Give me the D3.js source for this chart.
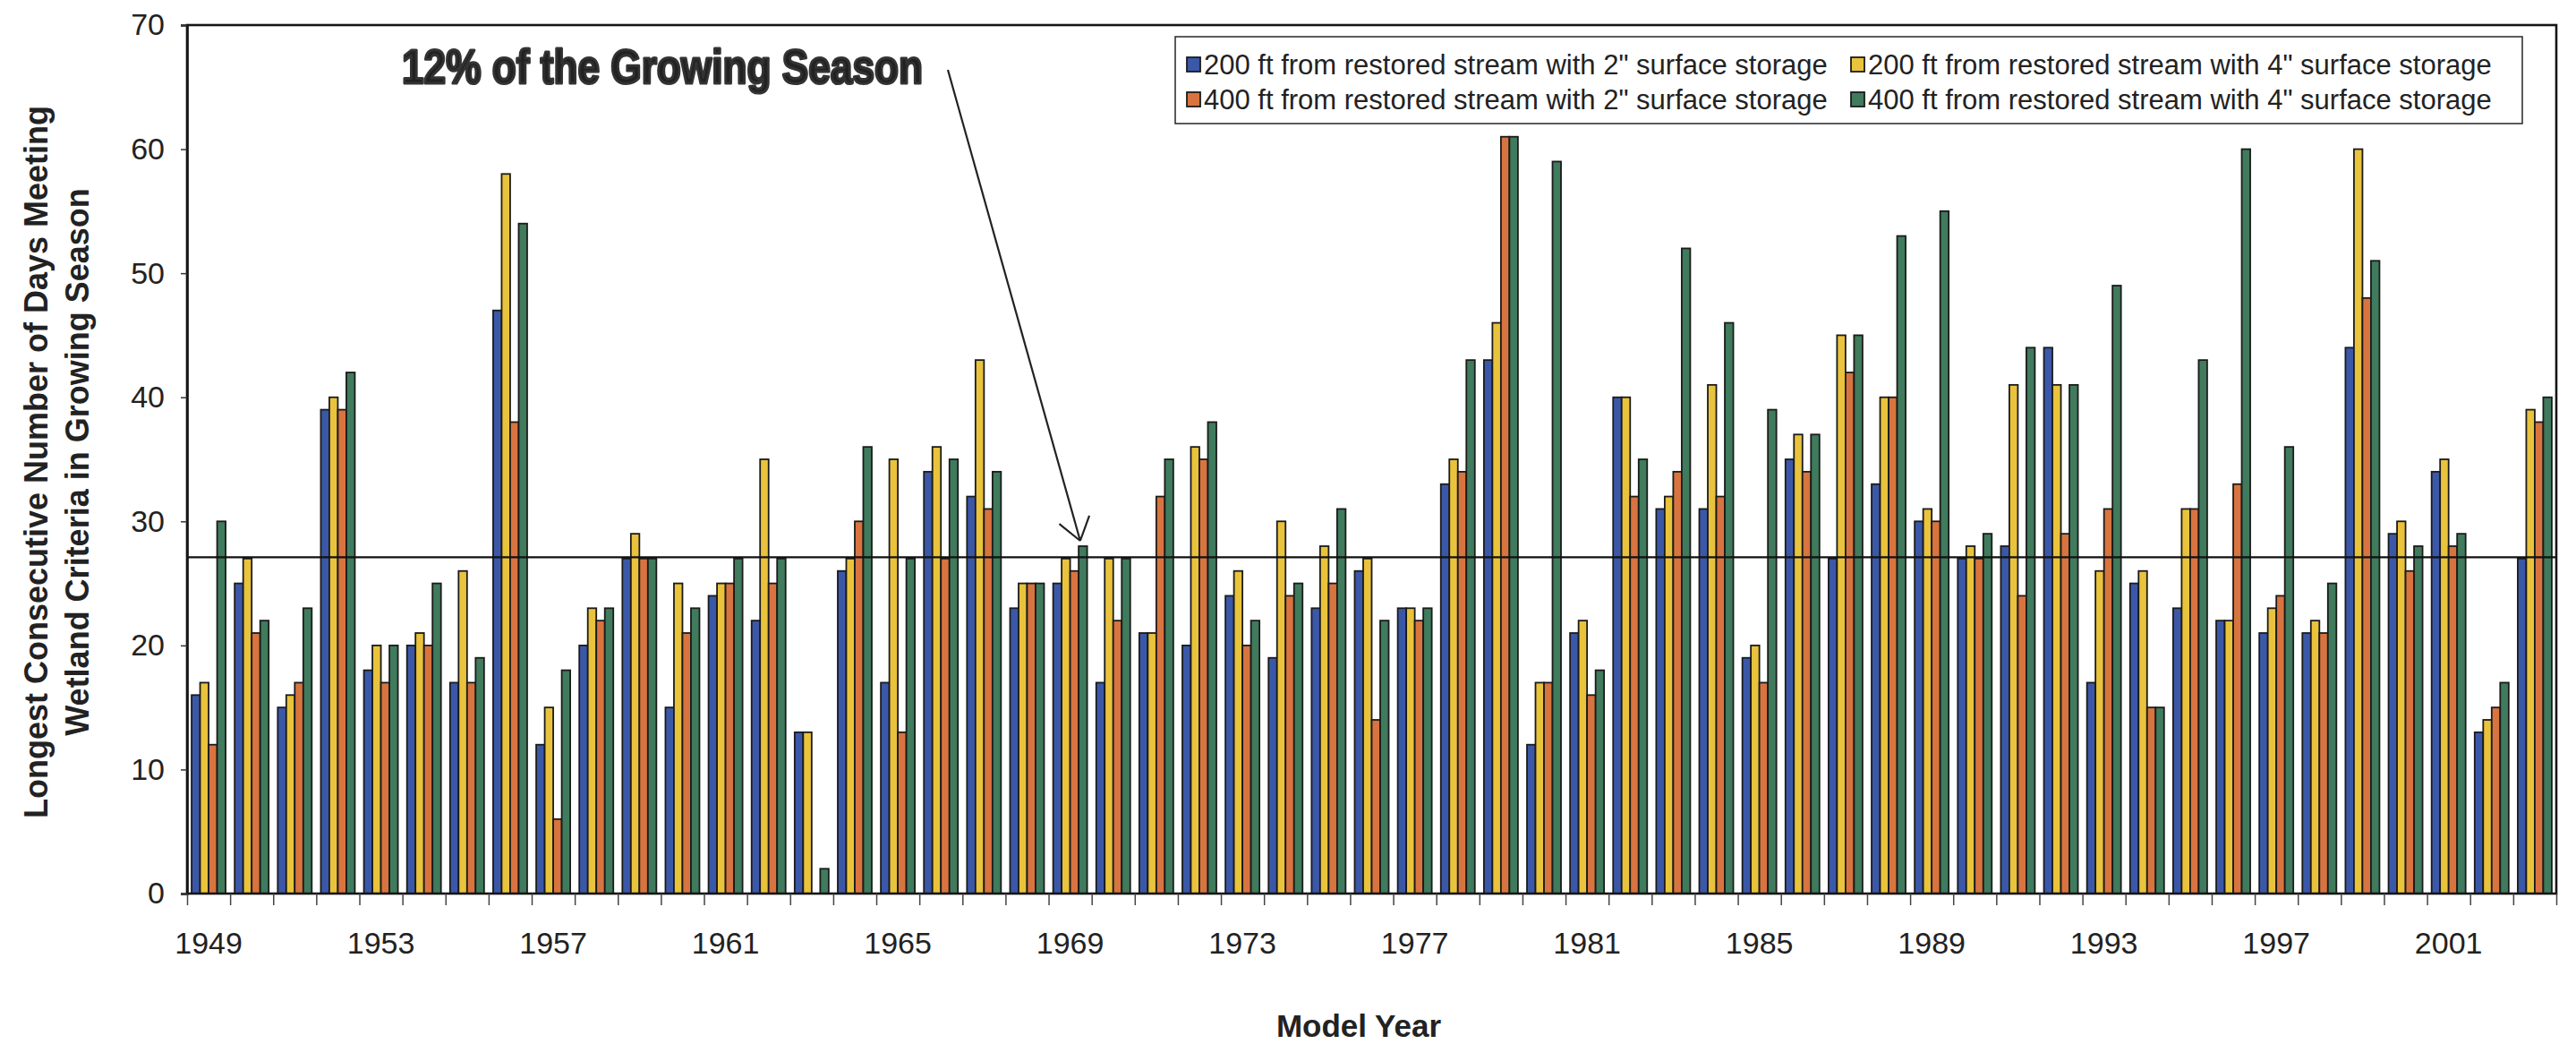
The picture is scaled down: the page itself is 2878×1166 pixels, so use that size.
<!DOCTYPE html>
<html>
<head>
<meta charset="utf-8">
<script src="https://cdn.jsdelivr.net/npm/d3@7"></script>
<style>
  html, body { margin: 0; padding: 0; background: #ffffff; }
  svg { display: block; }
  text { font-family: "Liberation Sans", Arial, Helvetica, sans-serif; fill: #222; }
</style>
</head>
<body>
<svg id="chart" width="2878" height="1166"></svg>
<script>
// Model years on the category axis
const years = [1949, 1950, 1951, 1952, 1953, 1954, 1955, 1956, 1957, 1958,
               1959, 1960, 1961, 1962, 1963, 1964, 1965, 1966, 1967, 1968,
               1969, 1970, 1971, 1972, 1973, 1974, 1975, 1976, 1977, 1978,
               1979, 1980, 1981, 1982, 1983, 1984, 1985, 1986, 1987, 1988,
               1989, 1990, 1991, 1992, 1993, 1994, 1995, 1996, 1997, 1998,
               1999, 2000, 2001, 2002, 2003];

// Longest consecutive days meeting wetland criteria, one value per year
const ft200in2 = [16, 25, 15, 39, 18, 20, 17, 47, 12, 20,
                  27, 15, 24, 22, 13, 26, 17, 34, 32, 23,
                  25, 17, 21, 20, 24, 19, 23, 26, 23, 33,
                  43, 12, 21, 40, 31, 31, 19, 35, 27, 33,
                  30, 27, 28, 44, 17, 25, 23, 22, 21, 21,
                  44, 29, 34, 13, 27];
const ft200in4 = [17, 27, 16, 40, 20, 21, 26, 58, 15, 23,
                  29, 25, 25, 35, 13, 27, 35, 36, 43, 25,
                  27, 27, 21, 36, 26, 30, 28, 27, 23, 35,
                  46, 17, 22, 40, 32, 41, 20, 37, 45, 40,
                  31, 28, 41, 41, 26, 26, 31, 22, 23, 22,
                  60, 30, 35, 14, 39];
const ft400in2 = [12, 21, 17, 39, 17, 20, 17, 38, 6, 22,
                  27, 21, 25, 25, 0, 30, 13, 27, 31, 25,
                  26, 22, 32, 35, 20, 24, 25, 14, 22, 34,
                  61, 17, 16, 32, 34, 32, 17, 34, 42, 40,
                  30, 27, 24, 29, 31, 15, 31, 33, 24, 21,
                  48, 26, 28, 15, 38];
const ft400in4 = [30, 22, 23, 42, 20, 25, 19, 54, 18, 23,
                  27, 23, 27, 27, 2, 36, 27, 35, 34, 25,
                  28, 27, 35, 38, 22, 25, 31, 22, 23, 43,
                  61, 59, 18, 35, 52, 46, 39, 37, 45, 53,
                  55, 29, 44, 41, 49, 15, 43, 60, 36, 25,
                  51, 28, 29, 17, 40];

const seriesKeys   = ["ft200in2", "ft200in4", "ft400in2", "ft400in4"];
const seriesNames  = ["200 ft from restored stream with 2\" surface storage",
                      "200 ft from restored stream with 4\" surface storage",
                      "400 ft from restored stream with 2\" surface storage",
                      "400 ft from restored stream with 4\" surface storage"];
const seriesColors = ["#3b58a8", "#e9c33c", "#d8743f", "#3f7b5c"];

// Axis tick labels
const tickYears = [1949, 1953, 1957, 1961, 1965, 1969, 1973, 1977, 1981, 1985, 1989, 1993, 1997, 2001];
const yTicks = [0, 10, 20, 30, 40, 50, 60, 70];

// 12% of the growing season, in days
const threshold = 27.1;
const thresholdLabel = "12% of the Growing Season";
const thresholdYear = 1969;
const thresholdSeries = "ft400in4";

const seriesValues = { ft200in2, ft200in4, ft400in2, ft400in4 };
const rows = years.map((yr, i) => {
  const r = { year: yr };
  seriesKeys.forEach(k => { r[k] = seriesValues[k][i]; });
  return r;
});

const svg = d3.select("#chart");
const plot = { left: 209, right: 2856, top: 28, bottom: 998 };

const x = d3.scaleBand().domain(years).range([plot.left, plot.right])
  .paddingInner(0.21).paddingOuter(0.105);
const xs = d3.scaleBand().domain(seriesKeys).range([0, x.bandwidth()]);
const y = d3.scaleLinear().domain([0, 70]).range([plot.bottom, plot.top]);
const color = d3.scaleOrdinal().domain(seriesKeys).range(seriesColors);

// Grouped bars
const groups = svg.append("g").selectAll("g")
  .data(rows).join("g")
  .attr("transform", d => `translate(${x(d.year)},0)`);

groups.selectAll("rect")
  .data(d => seriesKeys.map(k => ({ key: k, value: d[k] })).filter(e => e.value > 0))
  .join("rect")
  .attr("x", e => xs(e.key))
  .attr("width", xs.bandwidth())
  .attr("y", e => y(e.value))
  .attr("height", e => y(0) - y(e.value))
  .attr("fill", e => color(e.key))
  .attr("stroke", "#1b1b1b")
  .attr("stroke-width", 1.8);

// Threshold line across the plot
svg.append("line")
  .attr("x1", plot.left).attr("x2", plot.right)
  .attr("y1", y(threshold)).attr("y2", y(threshold))
  .attr("stroke", "#111").attr("stroke-width", 2.2);

// Plot area frame
svg.append("rect")
  .attr("x", plot.left).attr("y", plot.top)
  .attr("width", plot.right - plot.left).attr("height", plot.bottom - plot.top)
  .attr("fill", "none").attr("stroke", "#151515").attr("stroke-width", 2.6);

// Y axis
const yAxis = svg.append("g")
  .attr("transform", `translate(${plot.left},0)`)
  .call(d3.axisLeft(y).tickValues(yTicks).tickSize(7).tickPadding(18));
yAxis.select(".domain").attr("stroke", "#151515").attr("stroke-width", 2.6);
yAxis.selectAll(".tick line").attr("stroke", "#333").attr("stroke-width", 1.5);
yAxis.selectAll("text")
  .attr("font-size", 34).attr("fill", "#222")
  .style("font-family", "'Liberation Sans', Arial, sans-serif");

// Category boundary ticks, one per year
const boundary = d3.scaleLinear().domain([0, years.length]).range([plot.left, plot.right]);
const xTicks = svg.append("g")
  .attr("transform", `translate(0,${plot.bottom})`)
  .call(d3.axisBottom(boundary).tickValues(d3.range(years.length + 1)).tickSize(13).tickFormat(""));
xTicks.select(".domain").remove();
xTicks.selectAll(".tick line").attr("stroke", "#444").attr("stroke-width", 1.5);

// Year labels every four years
const xAxis = svg.append("g")
  .attr("transform", `translate(0,${plot.bottom})`)
  .call(d3.axisBottom(x).tickValues(tickYears).tickSize(0).tickPadding(0));
xAxis.select(".domain").remove();
xAxis.selectAll("text")
  .attr("y", 67).attr("dy", 0)
  .attr("font-size", 34).attr("fill", "#222")
  .style("font-family", "'Liberation Sans', Arial, sans-serif");

// Axis titles
const yTitle = svg.append("g").attr("font-weight", "bold").attr("font-size", 36);
[["Longest Consecutive Number of Days Meeting", 53],
 ["Wetland Criteria in Growing Season", 99]].forEach(([t, bx]) => {
  yTitle.append("text")
    .attr("transform", `translate(${bx},516) rotate(-90)`)
    .attr("text-anchor", "middle")
    .attr("fill", "#222")
    .text(t);
});

svg.append("text")
  .attr("x", 1518).attr("y", 1158)
  .attr("text-anchor", "middle")
  .attr("font-weight", "bold").attr("font-size", 35)
  .attr("fill", "#333")
  .text("Model Year");

// Legend
const legend = svg.append("g");
legend.append("rect")
  .attr("x", 1313).attr("y", 41).attr("width", 1505).attr("height", 97)
  .attr("fill", "#fff").attr("stroke", "#333").attr("stroke-width", 1.6);
const legendPos = [[1326, 72], [2068, 72], [1326, 111], [2068, 111]];
seriesKeys.forEach((k, i) => {
  const [lx, ly] = legendPos[i];
  legend.append("rect")
    .attr("x", lx).attr("y", ly - 8).attr("width", 15).attr("height", 16)
    .attr("fill", color(k)).attr("stroke", "#1b1b1b").attr("stroke-width", 1.8);
  legend.append("text")
    .attr("x", lx + 19).attr("y", ly + 11)
    .attr("font-size", 31).attr("fill", "#222")
    .text(seriesNames[i]);
});

// Annotation for the threshold line
svg.append("text")
  .attr("x", 449).attr("y", 93)
  .attr("font-weight", "bold").attr("font-size", 54)
  .attr("textLength", 582).attr("lengthAdjust", "spacingAndGlyphs")
  .attr("fill", "#1e1e1e").attr("stroke", "#333").attr("stroke-width", 3.2)
  .attr("stroke-linejoin", "round")
  .style("font-family", "'Liberation Sans Narrow', 'Arial Narrow', 'Liberation Sans', Arial, sans-serif")
  .text(thresholdLabel);

const target = rows.find(r => r.year === thresholdYear);
const tipX = x(thresholdYear) + xs(thresholdSeries) + xs.bandwidth() / 2 - 3;
const tipY = y(target[thresholdSeries]) - 6;
const startX = 1059, startY = 78;
const ang = Math.atan2(tipY - startY, tipX - startX);
const headLen = 30, headSpread = 0.62;
const arrow = svg.append("g").attr("stroke", "#222").attr("stroke-width", 2.2).attr("fill", "none");
arrow.append("line")
  .attr("x1", startX).attr("y1", startY).attr("x2", tipX).attr("y2", tipY);
[ang + Math.PI - headSpread, ang + Math.PI + headSpread].forEach(a => {
  arrow.append("line")
    .attr("x1", tipX).attr("y1", tipY)
    .attr("x2", tipX + headLen * Math.cos(a))
    .attr("y2", tipY + headLen * Math.sin(a));
});
</script>
</body>
</html>
